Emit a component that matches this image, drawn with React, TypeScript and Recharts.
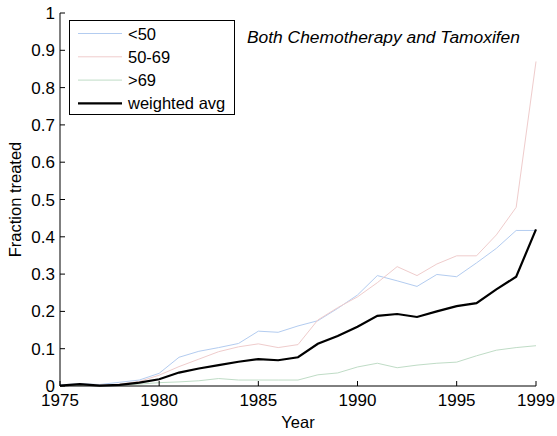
import React from 'react';
import { LineChart, Line, XAxis, YAxis, Label } from 'recharts';

const years = [
  1975, 1976, 1977, 1978, 1979, 1980, 1981, 1982, 1983, 1984, 1985, 1986, 1987,
  1988, 1989, 1990, 1991, 1992, 1993, 1994, 1995, 1996, 1997, 1998, 1999,
];
const under50 = [
  0.003, 0.006, 0.004, 0.01, 0.016, 0.034, 0.077, 0.093, 0.103, 0.114, 0.147, 0.144, 0.161,
  0.175, 0.208, 0.244, 0.296, 0.282, 0.267, 0.299, 0.293, 0.33, 0.369, 0.417, 0.417,
];
const age50to69 = [
  0.001, 0.003, 0.002, 0.005, 0.012, 0.029, 0.052, 0.072, 0.092, 0.105, 0.113, 0.103, 0.111,
  0.177, 0.21, 0.239, 0.277, 0.32, 0.296, 0.327, 0.349, 0.349, 0.405, 0.479, 0.87,
];
const over69 = [
  0.001, 0.002, 0.001, 0.002, 0.005, 0.009, 0.011, 0.014, 0.02, 0.016, 0.016, 0.016, 0.016,
  0.03, 0.035, 0.051, 0.061, 0.049, 0.056, 0.061, 0.064, 0.081, 0.096, 0.103, 0.108,
];
const weightedAvg = [
  0.001, 0.005, 0.001, 0.003, 0.009, 0.018, 0.036, 0.047, 0.056, 0.065, 0.072, 0.069, 0.077,
  0.113, 0.134, 0.159, 0.188, 0.193, 0.185, 0.2, 0.214, 0.222, 0.259, 0.293, 0.42,
];
const xTicks = [1975, 1980, 1985, 1990, 1995, 1999];
const yTicks = [0, 0.1, 0.2, 0.3, 0.4, 0.5, 0.6, 0.7, 0.8, 0.9, 1];
const yTickLabels = ['0', '0.1', '0.2', '0.3', '0.4', '0.5', '0.6', '0.7', '0.8', '0.9', '1'];

const SERIES = [
  { key: 'under50', name: '<50', color: '#b3ccf0', width: 1 },
  { key: 'age50to69', name: '50-69', color: '#efcccc', width: 1 },
  { key: 'over69', name: '>69', color: '#bfdcc6', width: 1 },
  { key: 'weightedAvg', name: 'weighted avg', color: '#000000', width: 2.2 },
];

const data = years.map((year, i) => ({
  year,
  under50: under50[i],
  age50to69: age50to69[i],
  over69: over69[i],
  weightedAvg: weightedAvg[i],
}));

const FONT = '"Liberation Sans", Arial, Helvetica, sans-serif';
const TICK = 5;
const TICK_FONT = 17;
const LABEL_FONT = 16.5;

// matlab style: tick marks point into the plot box
const BottomTick = ({ x, y, payload }: any) => (
  <g>
    <line x1={x} y1={y} x2={x} y2={y - TICK} stroke="#000" />
    <text x={x} y={y + 20} textAnchor="middle" fontSize={TICK_FONT} fontFamily={FONT} fill="#000">
      {payload.value}
    </text>
  </g>
);
const TopTick = ({ x, y }: any) => <line x1={x} y1={y} x2={x} y2={y + TICK} stroke="#000" />;
const LeftTick = ({ x, y, payload }: any) => (
  <g>
    <line x1={x} y1={y} x2={x + TICK} y2={y} stroke="#000" />
    <text x={x - 5} y={y + 6} textAnchor="end" fontSize={TICK_FONT} fontFamily={FONT} fill="#000">
      {yTickLabels[yTicks.indexOf(payload.value)] ?? payload.value}
    </text>
  </g>
);
const RightTick = ({ x, y }: any) => <line x1={x} y1={y} x2={x - TICK} y2={y} stroke="#000" />;

export default function App() {
  return (
    <div
      style={{
        position: 'absolute',
        left: 0,
        top: 0,
        width: 557,
        height: 436,
        background: '#fff',
        fontFamily: FONT,
      }}
    >
      <LineChart width={557} height={436} data={data} margin={{ top: 13, right: 21, bottom: 0, left: 0 }}>
        <XAxis
          dataKey="year"
          type="number"
          domain={[1975, 1999]}
          ticks={xTicks}
          height={50}
          tickSize={0}
          tickMargin={0}
          tickLine={false}
          tick={<BottomTick />}
          axisLine={{ stroke: '#000' }}
          interval={0}
        >
          <Label
            content={({ viewBox }: any) => (
              <text
                x={viewBox.x + viewBox.width / 2}
                y={viewBox.y + 42}
                textAnchor="middle"
                fontSize={LABEL_FONT}
                fontFamily={FONT}
                fill="#000"
              >
                Year
              </text>
            )}
          />
        </XAxis>
        <XAxis
          xAxisId="top"
          orientation="top"
          dataKey="year"
          type="number"
          domain={[1975, 1999]}
          ticks={xTicks}
          height={0}
          tickSize={0}
          tickMargin={0}
          tickLine={false}
          tick={<TopTick />}
          axisLine={{ stroke: '#000' }}
          interval={0}
        />
        <YAxis
          type="number"
          domain={[0, 1]}
          ticks={yTicks}
          width={60}
          tickSize={0}
          tickMargin={0}
          tickLine={false}
          tick={<LeftTick />}
          axisLine={{ stroke: '#000' }}
          interval={0}
        >
          <Label
            content={({ viewBox }: any) => {
              const cy = viewBox.y + viewBox.height / 2;
              return (
                <text
                  x={21}
                  y={cy}
                  transform={`rotate(-90 21 ${cy})`}
                  textAnchor="middle"
                  fontSize={LABEL_FONT}
                  fontFamily={FONT}
                  fill="#000"
                >
                  Fraction treated
                </text>
              );
            }}
          />
        </YAxis>
        <YAxis
          yAxisId="right"
          orientation="right"
          type="number"
          domain={[0, 1]}
          ticks={yTicks}
          width={0}
          tickSize={0}
          tickMargin={0}
          tickLine={false}
          tick={<RightTick />}
          axisLine={{ stroke: '#000' }}
          interval={0}
        />
        {SERIES.map((s) => (
          <Line
            key={s.key}
            dataKey={s.key}
            name={s.name}
            stroke={s.color}
            strokeWidth={s.width}
            dot={false}
            activeDot={false}
            type="linear"
            isAnimationActive={false}
          />
        ))}
      </LineChart>

      {/* legend box, top left inside the axes */}
      <svg width={167} height={96} style={{ position: 'absolute', left: 69, top: 20 }}>
        <rect x={0.5} y={0.5} width={165} height={94} fill="#fff" stroke="#000" />
        {SERIES.map((s, i) => {
          const cy = 13.5 + i * 23.3;
          return (
            <g key={s.key}>
              <line x1={9} y1={cy} x2={53} y2={cy} stroke={s.color} strokeWidth={s.width} />
              <text x={59} y={cy + 6} fontSize={LABEL_FONT} fontFamily={FONT} fill="#000">
                {s.name}
              </text>
            </g>
          );
        })}
      </svg>

      <div
        style={{
          position: 'absolute',
          left: 247,
          top: 27,
          fontSize: 17.4,
          fontStyle: 'italic',
          lineHeight: '20px',
          whiteSpace: 'nowrap',
          color: '#000',
        }}
      >
        Both Chemotherapy and Tamoxifen
      </div>
    </div>
  );
}
